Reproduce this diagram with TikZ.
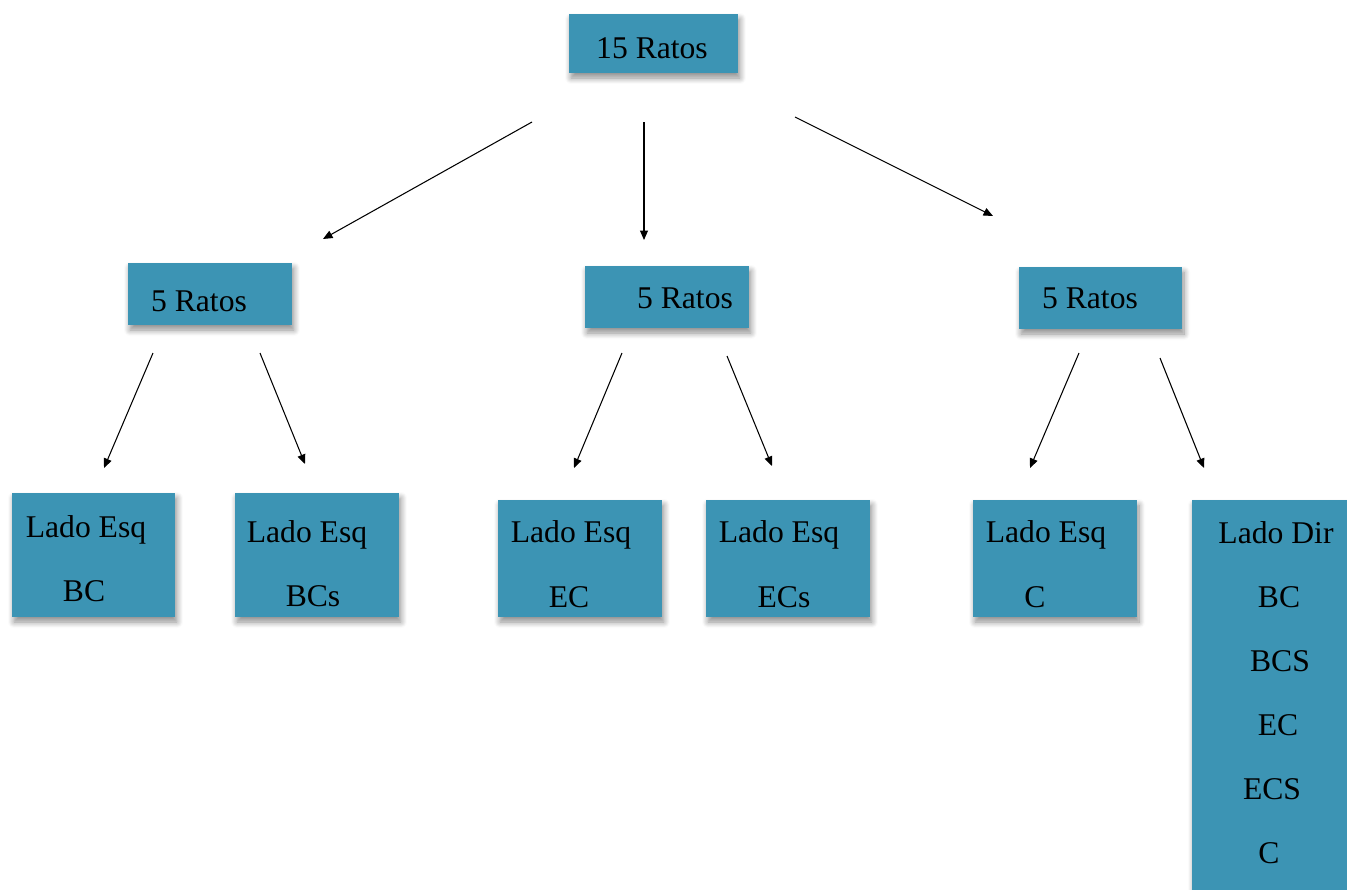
\documentclass[tikz,border=0pt]{standalone}
\usepackage{fontspec}
\setmainfont{Liberation Serif}
\usetikzlibrary{arrows.meta, shadows.blur}
\definecolor{boxblue}{RGB}{60,148,180}
\tikzset{
    ratbox/.style={
        rectangle,
        fill=boxblue,
        draw=none,
        blur shadow={shadow xshift=0.04cm, shadow yshift=-0.1cm, shadow blur radius=0.12cm, shadow blur steps=8, shadow opacity=45}
    },
    lbl/.style={
        font=\fontsize{18}{22}\selectfont,
        text=black,
        inner sep=0pt
    },
    link/.style={
        draw=black,
        line width=0.6pt,
        -{Triangle[length=0.19cm, width=0.16cm]}
    }
}
\begin{document}
\begin{tikzpicture}[x=0.02cm, y=-0.02cm]
\useasboundingbox (0,0) rectangle (1347,890);

% Top box
\node[ratbox, minimum width=3.38cm, minimum height=1.18cm] (ratos15) at (653.5,43.5) {};
\node[lbl] (t15) at (652,48) {15 Ratos};

% Groups of five
\node[ratbox, minimum width=3.28cm, minimum height=1.24cm] (grp1) at (210,294) {};
\node[lbl] (tg1) at (199,301) {5 Ratos};
\node[ratbox, minimum width=3.28cm, minimum height=1.24cm] (grp2) at (667,297) {};
\node[lbl] (tg2) at (685,298) {5 Ratos};
\node[ratbox, minimum width=3.26cm, minimum height=1.24cm] (grp3) at (1100.5,298) {};
\node[lbl] (tg3) at (1090,298) {5 Ratos};

% Sides
\node[ratbox, minimum width=3.26cm, minimum height=2.48cm] (esq1) at (93.5,555) {};
\node[lbl] (te1a) at (86,530) {Lado Esq};
\node[lbl] (te1b) at (84,591) {BC};
\node[ratbox, minimum width=3.28cm, minimum height=2.48cm] (esq2) at (317,555) {};
\node[lbl] (te2a) at (307,535) {Lado Esq};
\node[lbl] (te2b) at (313,596) {BCs};
\node[ratbox, minimum width=3.28cm, minimum height=2.34cm] (esq3) at (580,558.5) {};
\node[lbl] (te3a) at (571,535) {Lado Esq};
\node[lbl] (te3b) at (569,597) {EC};
\node[ratbox, minimum width=3.28cm, minimum height=2.34cm] (esq4) at (788,558.5) {};
\node[lbl] (te4a) at (779,535) {Lado Esq};
\node[lbl] (te4b) at (784,597) {ECs};
\node[ratbox, minimum width=3.28cm, minimum height=2.34cm] (esq5) at (1055,558.5) {};
\node[lbl] (te5a) at (1046,535) {Lado Esq};
\node[lbl] (te5b) at (1035,597) {C};
\node[ratbox, minimum width=3.1cm, minimum height=7.8cm] (dir) at (1269.5,695) {};
\node[lbl] (tda) at (1276,533) {Lado Dir};
\foreach \txt/\xx/\yy [count=\i] in {BC/1279/597, BCS/1280/661, EC/1278/725, ECS/1272/789, C/1269/853}
    \node[lbl] (td\i) at (\xx,\yy) {\txt};

% Arrow ends
\coordinate (s1) at (532,122);  \coordinate (e1) at (323,239);
\coordinate (s2) at (644,122);  \coordinate (e2) at (644,240);
\coordinate (s3) at (795,117);  \coordinate (e3) at (993,216);
\coordinate (s4) at (153,353);  \coordinate (e4) at (104,468);
\coordinate (s5) at (260,353);  \coordinate (e5) at (305,464);
\coordinate (s6) at (622,353);  \coordinate (e6) at (574,468);
\coordinate (s7) at (727,356);  \coordinate (e7) at (772,466);
\coordinate (s8) at (1079,353); \coordinate (e8) at (1030,468);
\coordinate (s9) at (1160,358); \coordinate (e9) at (1204,468);

% Arrows
\foreach \i in {1,...,9}
    \draw[link] (s\i) -- (e\i);

\end{tikzpicture}
\end{document}
